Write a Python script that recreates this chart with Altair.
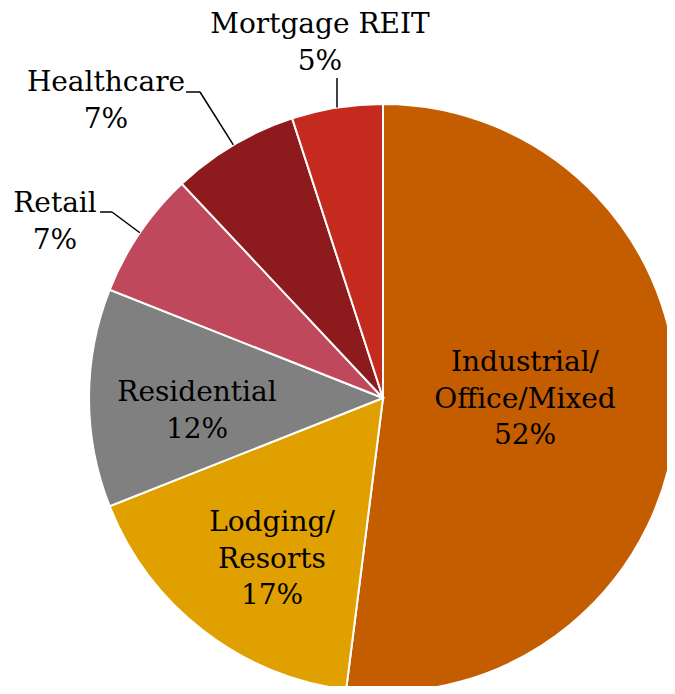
import math
import altair as alt
import pandas as pd

# ---- data ----
categories = ["Industrial/\nOffice/Mixed", "Lodging/\nResorts", "Residential", "Retail", "Healthcare", "Mortgage REIT"]
values = [52, 17, 12, 7, 7, 5]
colors = ["#C45C00", "#E0A000", "#808080", "#C0485C", "#8D1A1C", "#C42A1E"]

# ---- layout / style (chart coordinates = page - 8) ----
CX, CY, R = 375, 390, 294
FONT = "DejaVu Serif"
FS = 28
LH = 36.5
# label anchor: (x center, first baseline)
label_pos = {
    "Industrial/\nOffice/Mixed": (517, 363),
    "Lodging/\nResorts": (264, 523),
    "Residential": (189, 393),
    "Retail": (47, 204),
    "Healthcare": (98, 83),
    "Mortgage REIT": (312, 25),
}
# leader lines: elbow points (chart coords), end is on the arc
leaders = {
    "Healthcare": [(178, 84), (192, 84)],
    "Retail": [(92, 204), (104, 204)],
    "Mortgage REIT": [(None, 70)],
}

names = [c.replace("\n", "") for c in categories]
df = pd.DataFrame({"cat": names, "value": values, "idx": list(range(len(values)))})

arcs = alt.Chart(df).mark_arc(radius=R, stroke="white", strokeWidth=2).encode(
    theta=alt.Theta("value:Q", stack=True),
    color=alt.Color("cat:N", scale=alt.Scale(domain=names, range=colors), legend=None),
    order=alt.Order("idx:Q"),
    x=alt.value(CX),
    y=alt.value(CY),
)

# text rows
rows = []
for c, v in zip(categories, values):
    x0, y0 = label_pos[c]
    lines = c.split("\n") + [f"{v}%"]
    for i, t in enumerate(lines):
        rows.append({"t": t, "x": x0, "y": y0 + i * LH})
tdf = pd.DataFrame(rows)
texts = alt.Chart(tdf).mark_text(font=FONT, fontSize=FS, color="black", baseline="alphabetic", align="center").encode(
    x=alt.X("x:Q", scale=None), y=alt.Y("y:Q", scale=None), text="t:N"
)

# leader segments
total = sum(values)
cum = 0
segs = []
for c, v in zip(categories, values):
    mid = (cum + v / 2) / total * 2 * math.pi
    cum += v
    if c in leaders:
        ex, ey = CX + R * math.sin(mid), CY - R * math.cos(mid)
        pts = [(p[0] if p[0] is not None else ex, p[1]) for p in leaders[c]] + [(ex, ey)]
        for a, b in zip(pts[:-1], pts[1:]):
            segs.append({"x": a[0], "y": a[1], "x2": b[0], "y2": b[1]})
sdf = pd.DataFrame(segs)
lines = alt.Chart(sdf).mark_rule(color="black", strokeWidth=1.5).encode(
    x=alt.X("x:Q", scale=None), y=alt.Y("y:Q", scale=None),
    x2="x2:Q", y2="y2:Q",
)

chart = alt.layer(arcs, lines, texts).properties(
    width=659, height=678, autosize=alt.AutoSizeParams(type="none"), padding=0
).configure_view(stroke=None)

chart.save("out.html", embed_options={"renderer": "svg", "actions": False})
